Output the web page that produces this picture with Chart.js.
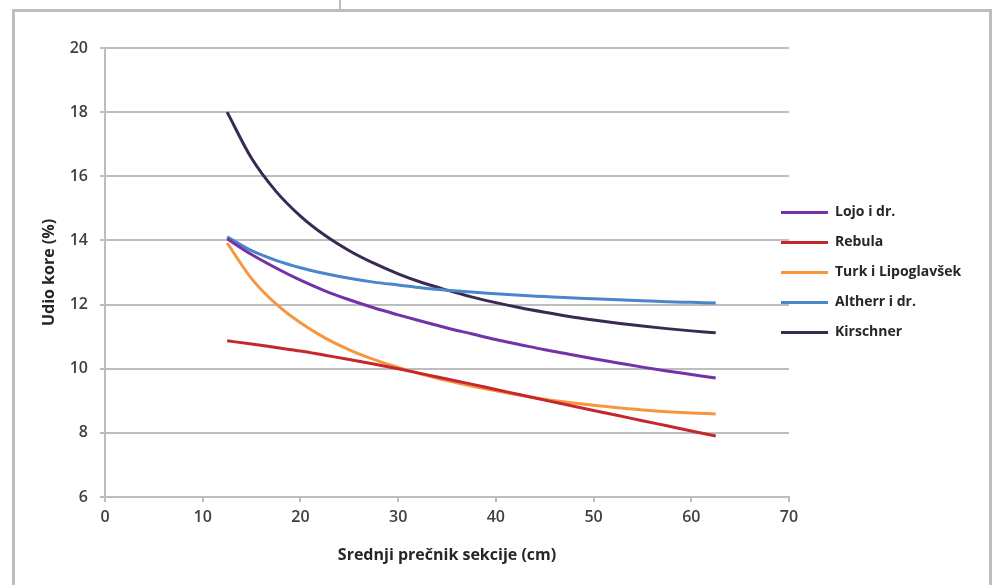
<!DOCTYPE html>
<html>
<head>
<meta charset="utf-8">
<script src="https://cdn.jsdelivr.net/npm/chart.js@4"></script>
<style>
  html, body { margin: 0; padding: 0; background: #fff; }
  #wrap { position: relative; width: 993px; height: 585px; overflow: hidden; }
  #frame { position: absolute; left: 12px; top: 9px; width: 974px; height: 620px; border: 3px solid #bdbdbd; pointer-events: none; }
  #tick { position: absolute; left: 339px; top: 0; width: 2px; height: 10px; background: #bdbdbd; }
  canvas { position: absolute; left: 0; top: 0; }
</style>
</head>
<body>
<div id="wrap">
  <div id="tick"></div>
  <div id="frame"></div>
  <canvas id="chart" width="993" height="585"></canvas>
</div>
<script>
var DIAMETERS = [12.5, 15, 17.5, 20, 22.5, 25, 27.5, 30, 32.5, 35, 37.5, 40, 42.5, 45, 47.5, 50, 52.5, 55, 57.5, 60, 62.5];

var LOJO      = [14.05, 13.56, 13.14, 12.76, 12.43, 12.15, 11.9, 11.68, 11.47, 11.27, 11.09, 10.91, 10.75, 10.59, 10.45, 10.31, 10.18, 10.05, 9.93, 9.82, 9.71];
var REBULA    = [10.87, 10.77, 10.66, 10.55, 10.42, 10.29, 10.15, 10.0, 9.84, 9.68, 9.52, 9.35, 9.19, 9.02, 8.86, 8.7, 8.54, 8.38, 8.22, 8.06, 7.9];
var TURK      = [13.92, 12.81, 12.02, 11.43, 10.96, 10.59, 10.29, 10.04, 9.82, 9.63, 9.46, 9.31, 9.17, 9.05, 8.95, 8.86, 8.78, 8.71, 8.66, 8.62, 8.59];
var ALTHERR   = [14.11, 13.68, 13.38, 13.15, 12.97, 12.82, 12.7, 12.61, 12.52, 12.45, 12.39, 12.34, 12.29, 12.25, 12.21, 12.18, 12.15, 12.12, 12.09, 12.07, 12.05];
var KIRSCHNER = [18.0, 16.56, 15.53, 14.76, 14.16, 13.68, 13.29, 12.96, 12.68, 12.45, 12.24, 12.06, 11.9, 11.76, 11.63, 11.52, 11.42, 11.33, 11.25, 11.18, 11.12];

var SERIES_NAMES = ["Lojo i dr.", "Rebula", "Turk i Lipoglavšek", "Altherr i dr.", "Kirschner"];
var SERIES_VALUES = [LOJO, REBULA, TURK, ALTHERR, KIRSCHNER];
var SERIES_COLORS = ["#7431a8", "#c4282c", "#f7963f", "#4a86cc", "#3a2a52"];

var X_TITLE = "Srednji prečnik sekcije (cm)";
var Y_TITLE = "Udio kore (%)";

var GRID = "#bdbdbd";
var FONT = "'Open Sans', 'DejaVu Sans', sans-serif";

function toPoints(values) {
    return values.map(function (v, i) {
        return { x: DIAMETERS[i], y: v };
    });
}

var datasets = SERIES_NAMES.map(function (name, i) {
    return {
        label: name,
        data: toPoints(SERIES_VALUES[i]),
        borderColor: SERIES_COLORS[i],
        backgroundColor: SERIES_COLORS[i],
        borderWidth: 3,
        pointRadius: 0,
        cubicInterpolationMode: "monotone",
        fill: false,
    };
});

// nudge the legend a little into the plot, like the original
var legendShift = {
    id: "legendShift",
    afterLayout: function (chart) {
        chart.legend.left -= 24;
        chart.legend.right -= 24;
    },
};

new Chart(document.getElementById("chart"), {
    type: "line",
    data: { datasets: datasets },
    plugins: [legendShift],
    options: {
        responsive: false,
        animation: false,
        layout: { padding: { top: 48, right: 0, bottom: 0, left: 0 } },
        plugins: {
            tooltip: { enabled: false },
            legend: {
                position: "right",
                align: "center",
                fullSize: false,
                maxWidth: 204,
                labels: {
                    usePointStyle: true,
                    pointStyle: "line",
                    pointStyleWidth: 47,
                    padding: 16,
                    color: "#262626",
                    font: { family: FONT, size: 14, weight: "bold" },
                },
            },
        },
        scales: {
            x: {
                type: "linear",
                min: 0,
                max: 70,
                afterFit: function (scale) { scale.height = 88; },
                ticks: {
                    stepSize: 10,
                    padding: 6,
                    color: "#404040",
                    font: { family: FONT, size: 16, weight: "600" },
                },
                grid: { drawOnChartArea: false, color: GRID, lineWidth: 2, tickLength: 5 },
                border: { color: GRID, width: 2 },
                title: {
                    display: true,
                    text: X_TITLE,
                    color: "#262626",
                    font: { family: FONT, size: 16, weight: "bold" },
                    padding: { top: 0, bottom: 20 },
                },
            },
            y: {
                min: 6,
                max: 20,
                afterFit: function (scale) { scale.width = 105; },
                ticks: {
                    stepSize: 2,
                    padding: 12,
                    color: "#404040",
                    font: { family: FONT, size: 16, weight: "600" },
                },
                grid: { color: GRID, lineWidth: 2, tickLength: 5 },
                border: { color: GRID, width: 2 },
                title: {
                    display: true,
                    text: Y_TITLE,
                    color: "#262626",
                    font: { family: FONT, size: 16, weight: "bold" },
                    padding: { top: 40, bottom: 0 },
                },
            },
        },
    },
});
</script>
</body>
</html>
